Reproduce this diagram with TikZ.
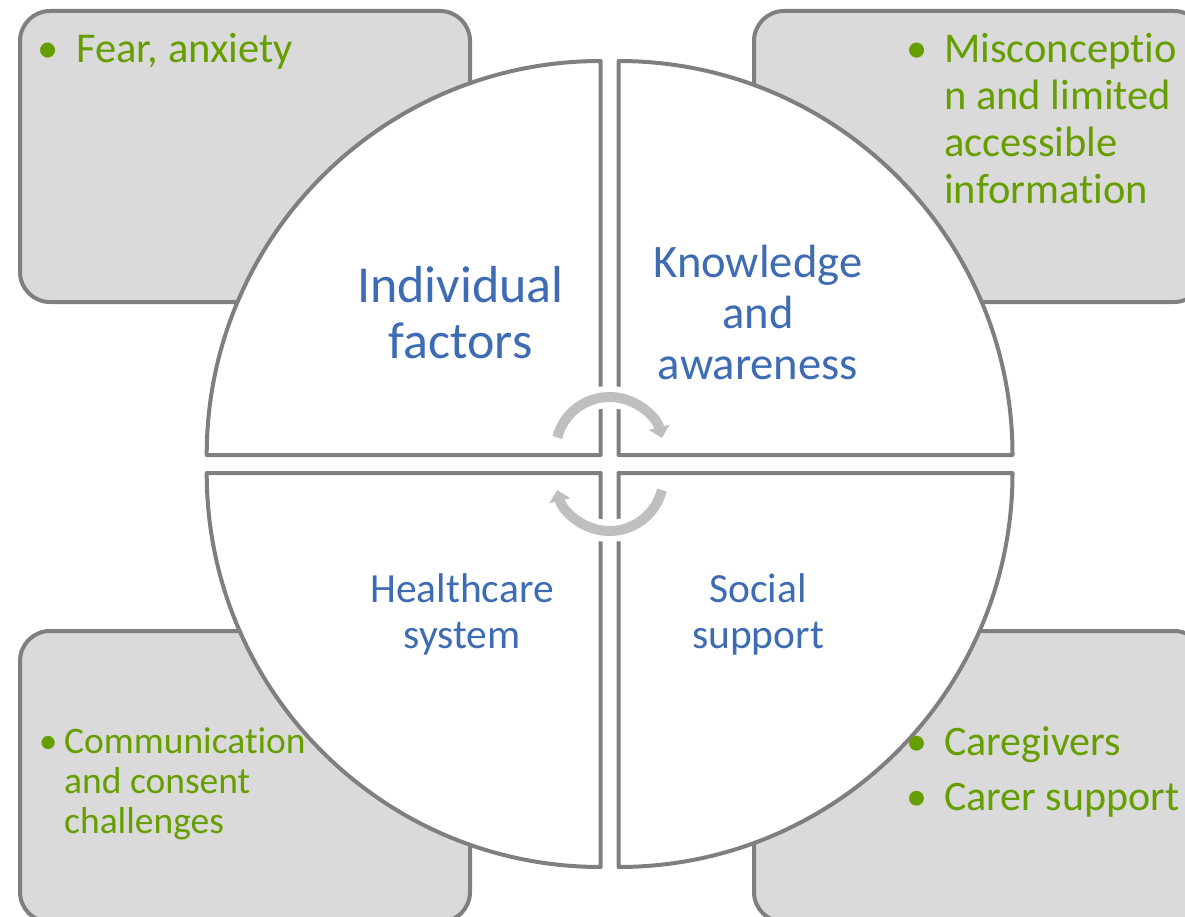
\documentclass[tikz,border=0pt]{standalone}
\usepackage{fontspec}
\setmainfont{Carlito}[Ligatures=NoCommon]
\usetikzlibrary{arrows.meta}
\definecolor{boxfill}{HTML}{DADADA}
\definecolor{edgegrey}{HTML}{7F7F7F}
\definecolor{arrowgrey}{HTML}{BFBFBF}
\definecolor{bluetext}{HTML}{3D6CB4}
\definecolor{greentext}{HTML}{669E00}
\newcommand{\mybul}[1]{\makebox[#1][l]{\makebox[0pt]{\textbullet}}}
\begin{document}
\begin{tikzpicture}[x=1pt,y=-1pt,
  sidebox/.style={draw=edgegrey, fill=boxfill, line width=4pt, rounded corners=30pt,
    minimum width=450pt, minimum height=291pt, anchor=north west, inner sep=0pt},
  quadrant/.style={draw=edgegrey, fill=white, line width=4pt, line join=round},
  halo/.style={white, line width=22pt},
  cyclearrow/.style={arrowgrey, line width=10pt, -{Triangle[width=21pt,length=11pt]}},
  bluelabel/.style={text=bluetext, inner sep=0pt, anchor=base},
  greenlabel/.style={text=greentext, inner sep=0pt, anchor=base west}]
\useasboundingbox (0,0) rectangle (1185,917);
\clip (0,0) rectangle (1185,917);
% side boxes
\node[sidebox] (tlbox) at (18,9) {};
\node[sidebox] (trbox) at (752,9) {};
\node[sidebox] (blbox) at (18,629) {};
\node[sidebox] (brbox) at (752,629) {};
% quadrants
\draw[quadrant] (600.7,455) -- ++(-394,0) arc[start angle=180, end angle=270, radius=394] -- cycle;
\draw[quadrant] (618.5,455) -- ++(0,-394) arc[start angle=270, end angle=360, radius=394] -- cycle;
\draw[quadrant] (600.7,473) -- ++(-394,0) arc[start angle=180, end angle=90, radius=394] -- cycle;
\draw[quadrant] (618.5,473) -- ++(394,0) arc[start angle=0, end angle=90, radius=394] -- cycle;
% cycle arrows
\coordinate (uc) at (609.5,451);
\coordinate (lc) at (609.5,477);
\draw[halo] (uc) ++(194.5:54) arc[start angle=194.5, end angle=345, radius=54];
\draw[halo] (lc) ++(14:54) arc[start angle=14, end angle=166, radius=54];
\draw[cyclearrow] (uc) ++(194.5:54) arc[start angle=194.5, end angle=346, radius=54];
\draw[cyclearrow] (lc) ++(14:54) arc[start angle=14, end angle=166, radius=54];
% quadrant labels
\node[bluelabel, font=\fontsize{52}{56}\selectfont] (ind) at (460.5,302)
  {\begin{tabular}[t]{@{}c@{}}Individual\\factors\end{tabular}};
\node[bluelabel, font=\fontsize{46.6}{51}\selectfont] (know) at (758,277)
  {\begin{tabular}[t]{@{}c@{}}Knowledge\\and\\awareness\end{tabular}};
\node[bluelabel, font=\fontsize{41.5}{46}\selectfont] (health) at (462,602)
  {\begin{tabular}[t]{@{}c@{}}Healthcare\\system\end{tabular}};
\node[bluelabel, font=\fontsize{41.5}{46}\selectfont] (social) at (758,602)
  {\begin{tabular}[t]{@{}c@{}}Social\\support\end{tabular}};
% box texts
\node[greenlabel, font=\fontsize{42.5}{47}\selectfont] (fear) at (48,63)
  {\begin{tabular}[t]{@{}l@{}l@{}}\mybul{28pt}&Fear, anxiety\end{tabular}};
\node[greenlabel, font=\fontsize{42.5}{46.7}\selectfont] (misc) at (917,63)
  {\begin{tabular}[t]{@{}l@{}l@{}}\mybul{27pt}&Misconceptio\\&n and limited\\&accessible\\&information\end{tabular}};
\node[greenlabel, font=\fontsize{37.5}{40}\selectfont] (comm) at (48,753)
  {\begin{tabular}[t]{@{}l@{}l@{}}\mybul{16pt}&Communication\\&and consent\\&challenges\end{tabular}};
\node[greenlabel, font=\fontsize{42}{46}\selectfont] (care) at (917,755)
  {\begin{tabular}[t]{@{}l@{}l@{}}\mybul{27pt}&Caregivers\\[9pt]\mybul{27pt}&Carer support\end{tabular}};
\end{tikzpicture}
\end{document}
